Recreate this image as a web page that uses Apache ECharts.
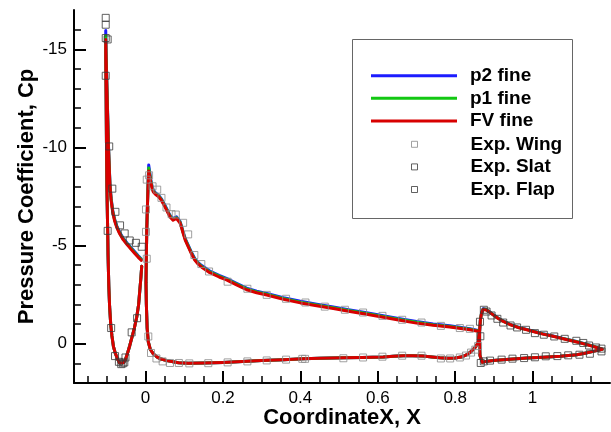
<!DOCTYPE html>
<html>
<head>
<meta charset="utf-8">
<script src="https://cdn.jsdelivr.net/npm/echarts@6/dist/echarts.min.js"></script>
<style>
  html, body { margin: 0; padding: 0; background: #fff; }
  #chart { width: 611px; height: 432px; }
</style>
</head>
<body>
<div id="chart"></div>
<script>
// ---- Axis ticks and labels ----
const xMajor = [0, 0.2, 0.4, 0.6, 0.8, 1];
const xMinor = [-0.15, -0.1, -0.05, 0.05, 0.1, 0.15, 0.25, 0.3, 0.35, 0.45, 0.5, 0.55,
                0.65, 0.7, 0.75, 0.85, 0.9, 0.95, 1.05, 1.1, 1.15];
const yMajor = [-15, -10, -5, 0];
const yMinor = [-16, -14, -13, -12, -11, -9, -8, -7, -6, -4, -3, -2, -1, 1];

// ---- Slat: trailing edge -> lower surface -> leading edge -> upper surface -> trailing edge ----
const slatX = [-0.010, -0.012, -0.015, -0.018, -0.023, -0.029, -0.035, -0.041, -0.047, -0.052,
               -0.057, -0.062, -0.067, -0.072, -0.078, -0.083, -0.087, -0.090, -0.093, -0.095,
               -0.097, -0.098, -0.100, -0.101, -0.102, -0.103, -0.103,
               -0.102, -0.100, -0.098, -0.096, -0.094, -0.092, -0.089, -0.085, -0.080, -0.074,
               -0.067, -0.058, -0.048, -0.038, -0.028, -0.019, -0.011];
const slatFV = [-3.95, -3.4, -2.7, -2.0, -1.35, -0.8, -0.35, 0.1, 0.5, 0.8,
                0.97, 1.03, 0.98, 0.8, 0.5, 0.15, -0.4, -0.95, -1.9, -2.9,
                -4.5, -5.8, -8.0, -10.0, -12.5, -14.5, -15.5,
                -14.5, -13.0, -11.5, -10.0, -9.0, -8.0, -7.3, -6.7, -6.25, -5.9,
                -5.6, -5.3, -5.05, -4.82, -4.6, -4.4, -4.25];
const slatP1 = [-3.95, -3.4, -2.7, -2.0, -1.35, -0.8, -0.35, 0.1, 0.5, 0.8,
                0.97, 1.03, 0.98, 0.8, 0.5, 0.15, -0.4, -0.95, -1.9, -2.9,
                -4.5, -5.8, -8.0, -10.0, -12.6, -14.7, -15.7,
                -14.65, -13.1, -11.6, -10.08, -9.06, -8.05, -7.35, -6.75, -6.3, -5.94,
                -5.64, -5.34, -5.09, -4.86, -4.64, -4.44, -4.3];
const slatP2 = [-3.95, -3.4, -2.7, -2.0, -1.35, -0.8, -0.35, 0.1, 0.5, 0.8,
                0.97, 1.03, 0.98, 0.8, 0.5, 0.15, -0.4, -0.95, -1.9, -2.9,
                -4.5, -5.8, -8.0, -10.0, -12.7, -14.9, -15.95,
                -14.8, -13.2, -11.7, -10.15, -9.12, -8.1, -7.4, -6.8, -6.34, -5.98,
                -5.68, -5.38, -5.13, -4.9, -4.68, -4.48, -4.32];

// ---- Main wing: trailing edge -> lower surface -> leading edge -> upper surface -> trailing edge ----
const wingX = [0.862, 0.859, 0.853, 0.847, 0.838, 0.829, 0.815, 0.800, 0.780, 0.760,
               0.740, 0.717, 0.690, 0.666, 0.640, 0.614, 0.560, 0.511, 0.450, 0.407,
               0.356, 0.300, 0.250, 0.200, 0.150, 0.110, 0.085, 0.071, 0.055, 0.040,
               0.030, 0.020, 0.012, 0.007, 0.004, 0.002, 0.001, 0.002, 0.003, 0.004,
               0.006, 0.008,
               0.011, 0.013, 0.017, 0.020, 0.026, 0.033, 0.041, 0.050, 0.057, 0.063,
               0.071, 0.076, 0.080, 0.085, 0.089, 0.093, 0.097, 0.103, 0.110, 0.118,
               0.127, 0.136, 0.145, 0.166, 0.190, 0.209, 0.235, 0.261, 0.287, 0.313,
               0.356, 0.400, 0.442, 0.485, 0.528, 0.571, 0.614, 0.657, 0.700, 0.743,
               0.786, 0.838, 0.862];
const wingFV = [-0.55, -0.05, 0.15, 0.28, 0.45, 0.57, 0.68, 0.73, 0.74, 0.71,
                0.67, 0.63, 0.61, 0.61, 0.64, 0.67, 0.70, 0.72, 0.74, 0.77,
                0.81, 0.86, 0.91, 0.95, 0.98, 0.99, 0.97, 0.92, 0.86, 0.78,
                0.68, 0.52, 0.28, -0.1, -0.8, -2.0, -3.1, -4.5, -5.8, -6.5,
                -7.8, -8.8,
                -8.5, -8.25, -7.9, -7.73, -7.6, -7.5, -7.3, -6.97, -6.7, -6.46,
                -6.29, -6.33, -6.38, -6.3, -6.15, -5.9, -5.62, -5.25, -4.94, -4.6,
                -4.26, -4.05, -3.9, -3.62, -3.4, -3.25, -3.0, -2.75, -2.6, -2.48,
                -2.27, -2.08, -1.93, -1.79, -1.64, -1.5, -1.35, -1.2, -1.05, -0.94,
                -0.85, -0.71, -0.62];
const wingP1 = [-0.55, -0.05, 0.15, 0.28, 0.45, 0.57, 0.68, 0.73, 0.74, 0.71,
                0.67, 0.63, 0.61, 0.61, 0.64, 0.67, 0.70, 0.72, 0.74, 0.77,
                0.81, 0.86, 0.91, 0.95, 0.98, 0.99, 0.97, 0.92, 0.86, 0.78,
                0.68, 0.52, 0.28, -0.1, -0.8, -2.0, -3.1, -4.5, -5.8, -6.5,
                -7.85, -8.95,
                -8.6, -8.32, -7.95, -7.77, -7.64, -7.54, -7.34, -7.01, -6.74, -6.5,
                -6.33, -6.37, -6.42, -6.34, -6.19, -5.94, -5.66, -5.29, -4.98, -4.64,
                -4.3, -4.09, -3.94, -3.66, -3.44, -3.29, -3.04, -2.79, -2.64, -2.52,
                -2.31, -2.12, -1.97, -1.83, -1.68, -1.54, -1.39, -1.24, -1.09, -0.97,
                -0.88, -0.74, -0.64];
const wingP2 = [-0.55, -0.05, 0.15, 0.28, 0.45, 0.57, 0.68, 0.73, 0.74, 0.71,
                0.67, 0.63, 0.61, 0.61, 0.64, 0.67, 0.70, 0.72, 0.74, 0.77,
                0.81, 0.86, 0.91, 0.95, 0.98, 0.99, 0.97, 0.92, 0.86, 0.78,
                0.68, 0.52, 0.28, -0.1, -0.8, -2.0, -3.1, -4.5, -5.8, -6.5,
                -7.9, -9.1,
                -8.7, -8.4, -8.0, -7.82, -7.68, -7.58, -7.38, -7.05, -6.78, -6.54,
                -6.37, -6.41, -6.46, -6.38, -6.23, -5.98, -5.7, -5.33, -5.02, -4.68,
                -4.34, -4.13, -3.98, -3.7, -3.48, -3.33, -3.08, -2.83, -2.68, -2.56,
                -2.35, -2.16, -2.01, -1.87, -1.72, -1.58, -1.43, -1.28, -1.13, -1.01,
                -0.92, -0.77, -0.66];

// ---- Flap: trailing edge -> lower surface -> leading edge -> upper surface -> trailing edge ----
const flapX = [1.180, 1.157, 1.135, 1.114, 1.071, 1.028, 0.985, 0.941, 0.898, 0.880,
               0.870, 0.866, 0.864, 0.863, 0.863, 0.865, 0.868, 0.872, 0.876,
               0.880, 0.886, 0.898, 0.910, 0.920, 0.941, 0.962, 0.985, 1.006, 1.027,
               1.050, 1.071, 1.092, 1.114, 1.135, 1.157, 1.180];
const flapFV = [0.28, 0.39, 0.48, 0.56, 0.64, 0.69, 0.73, 0.79, 0.85, 0.9,
                0.95, 0.95, 0.6, 0.0, -0.6, -1.2, -1.55, -1.74, -1.78,
                -1.72, -1.65, -1.47, -1.3, -1.18, -0.98, -0.83, -0.71, -0.6, -0.49,
                -0.39, -0.29, -0.19, -0.09, 0.02, 0.14, 0.28];
const flapP1 = [0.28, 0.39, 0.48, 0.56, 0.64, 0.69, 0.73, 0.79, 0.85, 0.9,
                0.95, 0.95, 0.6, 0.0, -0.6, -1.2, -1.56, -1.76, -1.8,
                -1.74, -1.66, -1.48, -1.31, -1.19, -0.99, -0.84, -0.72, -0.61, -0.5,
                -0.4, -0.3, -0.2, -0.1, 0.01, 0.13, 0.28];
const flapP2 = [0.28, 0.39, 0.48, 0.56, 0.64, 0.69, 0.73, 0.79, 0.85, 0.9,
                0.95, 0.95, 0.6, 0.0, -0.6, -1.2, -1.57, -1.78, -1.82,
                -1.75, -1.67, -1.49, -1.32, -1.2, -1.0, -0.85, -0.73, -0.62, -0.51,
                -0.41, -0.31, -0.21, -0.11, 0.0, 0.12, 0.28];

// ---- Experimental pressure taps ----
const wingExpX = [0.003, 0.009, 0.018, 0.030, 0.041, 0.054, 0.067, 0.078, 0.097, 0.110,
                  0.126, 0.144, 0.164, 0.212, 0.263, 0.313, 0.363, 0.413, 0.463, 0.515,
                  0.562, 0.612, 0.663, 0.713, 0.763, 0.812, 0.838,
                  0.001, 0.001, 0.003, 0.007, 0.014, 0.028, 0.044, 0.063, 0.086, 0.113,
                  0.162, 0.212, 0.263, 0.313, 0.363, 0.405, 0.412, 0.511, 0.562, 0.612,
                  0.663, 0.713, 0.763, 0.787, 0.812, 0.828, 0.841, 0.852, 0.859];
const wingExpCp = [-8.36, -8.58, -8.02, -7.85, -7.43, -6.94, -6.60, -6.58, -6.16, -5.57,
                   -4.52, -4.06, -3.68, -3.16, -2.80, -2.49, -2.29, -2.10, -1.89, -1.73,
                   -1.59, -1.42, -1.22, -1.08, -0.91, -0.80, -0.76,
                   -6.84, -5.70, -4.33, -0.37, 0.47, 0.75, 0.90, 0.98, 0.98, 1.0,
                   0.99, 0.95, 0.90, 0.85, 0.81, 0.77, 0.77, 0.74, 0.70, 0.66,
                   0.61, 0.61, 0.75, 0.75, 0.70, 0.60, 0.45, 0.30, 0.12];
const slatExpX = [-0.103, -0.103, -0.103, -0.098, -0.103, -0.094, -0.086, -0.078, -0.066, -0.054,
                  -0.041, -0.025, -0.010,
                  -0.098, -0.089, -0.079, -0.069, -0.063, -0.059, -0.055, -0.052, -0.036, -0.022];
const slatExpCp = [-16.6, -16.25, -15.57, -15.5, -13.65, -10.05, -7.9, -6.72, -6.03, -5.62,
                   -5.26, -5.14, -4.94,
                   -5.75, -0.8, 0.63, 0.92, 1.04, 1.0, 0.95, 0.7, -0.58, -1.3];
const flapExpX = [0.864, 0.874, 0.881, 0.894, 0.909, 0.924, 0.943, 0.960, 0.983, 1.006,
                  1.029, 1.056, 1.083, 1.113, 1.131, 1.146, 1.164, 1.178,
                  1.178, 1.148, 1.121, 1.092, 1.064, 1.034, 1.006, 0.978, 0.948, 0.920,
                  0.890, 0.874, 0.866, 0.865];
const flapExpCp = [-1.12, -1.73, -1.64, -1.44, -1.27, -1.08, -0.93, -0.83, -0.71, -0.54,
                   -0.46, -0.37, -0.25, -0.15, -0.04, 0.09, 0.19, 0.25,
                   0.39, 0.51, 0.56, 0.59, 0.63, 0.64, 0.69, 0.73, 0.76, 0.81,
                   0.86, 0.90, 0.98, -0.38];

// ---- Build series ----
const FONT = "'Liberation Sans', Arial, Helvetica, sans-serif";
const pairs = (xs, ys) => xs.map((x, i) => [x, ys[i]]);

const solutions = [
  { name: 'p2 fine', color: '#1c1cff', z: 2, curves: [[slatX, slatP2], [wingX, wingP2], [flapX, flapP2]] },
  { name: 'p1 fine', color: '#12c812', z: 3, curves: [[slatX, slatP1], [wingX, wingP1], [flapX, flapP1]] },
  { name: 'FV fine', color: '#d80000', z: 4, curves: [[slatX, slatFV], [wingX, wingFV], [flapX, flapFV]] }
];
const experiments = [
  { name: 'Exp. Wing', color: '#8a8a8a', xs: wingExpX, ys: wingExpCp },
  { name: 'Exp. Slat', color: '#3a3a3a', xs: slatExpX, ys: slatExpCp },
  { name: 'Exp. Flap', color: '#3a3a3a', xs: flapExpX, ys: flapExpCp }
];

const series = [];
solutions.forEach(s => {
  s.curves.forEach(([xs, ys]) => {
    series.push({
      type: 'line', name: s.name, data: pairs(xs, ys),
      xAxisIndex: 0, yAxisIndex: 0,
      showSymbol: false, symbol: 'none', z: s.z,
      color: s.color,
      lineStyle: { color: s.color, width: 3, join: 'round', cap: 'round' }
    });
  });
});
experiments.forEach(e => {
  series.push({
    type: 'scatter', name: e.name, data: pairs(e.xs, e.ys),
    xAxisIndex: 0, yAxisIndex: 0,
    symbol: 'rect', symbolSize: 7, z: 5,
    itemStyle: { color: 'rgba(0,0,0,0)', borderColor: e.color, borderWidth: 1 }
  });
});

const legendText = { fontFamily: FONT, fontSize: 19, fontWeight: 'bold', color: '#000', lineHeight: 20 };
const X_RANGE = { min: -0.185, max: 1.2 };
const Y_RANGE = { min: -17, max: 2 };
const GRID_BOX = { left: 74, right: 1, top: 10, bottom: 49, containLabel: false, outerBoundsMode: 'none' };

const chart = echarts.init(document.getElementById('chart'), null, { renderer: 'canvas' });
chart.setOption({
  animation: false,
  backgroundColor: '#fff',
  // grid 0 carries the data and major ticks; grid 1 overlays it and carries the minor ticks
  grid: [Object.assign({}, GRID_BOX), Object.assign({}, GRID_BOX)],
  xAxis: [
    {
      gridIndex: 0, type: 'value', min: X_RANGE.min, max: X_RANGE.max, position: 'bottom',
      name: 'CoordinateX, X', nameLocation: 'middle', nameGap: 24, nameMoveOverlap: false,
      nameTextStyle: { fontFamily: FONT, fontSize: 22, fontWeight: 'bold', color: '#000' },
      axisLine: { show: true, onZero: false, lineStyle: { color: '#000', width: 2 } },
      axisTick: { show: true, inside: true, length: 12, customValues: xMajor, lineStyle: { color: '#000', width: 2 } },
      axisLabel: { show: true, customValues: xMajor, margin: 7, fontFamily: FONT, fontSize: 17, color: '#000' },
      splitLine: { show: false }
    },
    {
      gridIndex: 1, type: 'value', min: X_RANGE.min, max: X_RANGE.max, position: 'bottom',
      axisLine: { show: false, onZero: false },
      axisTick: { show: true, inside: true, length: 7, customValues: xMinor, lineStyle: { color: '#000', width: 1.5 } },
      axisLabel: { show: false },
      splitLine: { show: false }
    }
  ],
  yAxis: [
    {
      gridIndex: 0, type: 'value', min: Y_RANGE.min, max: Y_RANGE.max, inverse: true, position: 'left',
      name: 'Pressure Coefficient, Cp', nameLocation: 'middle', nameGap: 36, nameMoveOverlap: false,
      nameTextStyle: { fontFamily: FONT, fontSize: 22, fontWeight: 'bold', color: '#000' },
      axisLine: { show: true, onZero: false, lineStyle: { color: '#000', width: 2 } },
      axisTick: { show: true, inside: true, length: 12, customValues: yMajor, lineStyle: { color: '#000', width: 2 } },
      axisLabel: { show: true, customValues: yMajor, margin: 7, fontFamily: FONT, fontSize: 17, color: '#000' },
      splitLine: { show: false }
    },
    {
      gridIndex: 1, type: 'value', min: Y_RANGE.min, max: Y_RANGE.max, inverse: true, position: 'left',
      axisLine: { show: false, onZero: false },
      axisTick: { show: true, inside: true, length: 7, customValues: yMinor, lineStyle: { color: '#000', width: 1.5 } },
      axisLabel: { show: false },
      splitLine: { show: false }
    }
  ],
  graphic: {
    elements: [{
      type: 'rect', left: 352, top: 39, z: 8,
      shape: { width: 220, height: 179 },
      style: { fill: '#fff', stroke: '#666', lineWidth: 1 }
    }]
  },
  legend: [
    {
      orient: 'vertical', left: 371, top: 65.7, padding: 0, z: 10,
      itemWidth: 86, itemHeight: 3, itemGap: 2.6, selectedMode: false,
      data: solutions.map(s => ({ name: s.name, icon: 'rect', itemStyle: { color: s.color } })),
      textStyle: Object.assign({ padding: [0, 0, 0, 8] }, legendText)
    },
    {
      orient: 'vertical', left: 411, top: 134.3, padding: 0, z: 10,
      itemWidth: 6, itemHeight: 6, itemGap: 2.6, selectedMode: false,
      data: experiments.map(e => ({
        name: e.name, icon: 'rect',
        itemStyle: { color: 'rgba(0,0,0,0)', borderColor: e.color, borderWidth: 1 }
      })),
      textStyle: Object.assign({ padding: [0, 0, 0, 48] }, legendText)
    }
  ],
  series: series
});
</script>
</body>
</html>
